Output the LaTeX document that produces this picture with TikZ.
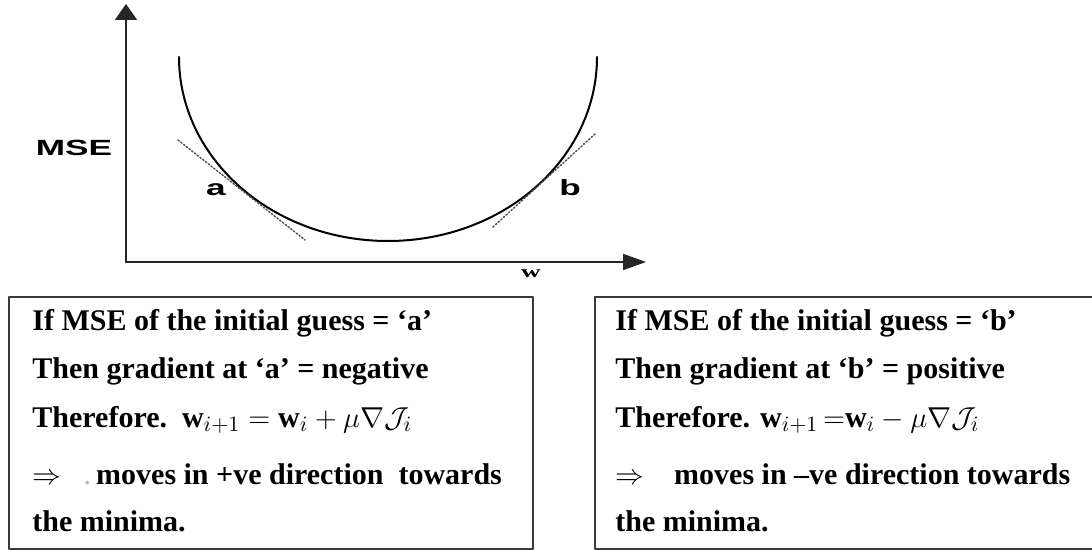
\documentclass[tikz,border=0pt]{standalone}
\usepackage{fontspec}
\usepackage{graphicx}
\setmainfont{Liberation Serif}
\newfontfamily\arialfont{Liberation Sans}
\usetikzlibrary{arrows.meta}
\definecolor{frame}{HTML}{3A3A3A}
\definecolor{tangent}{HTML}{505050}
\newcommand{\widelbl}[1]{\scalebox{1.6}[1]{#1}}

\begin{document}
\begin{tikzpicture}[x=0.5pt,y=-0.5pt,line cap=round,line join=round,
  axis/.style={line width=1pt,black!85},
  tanline/.style={tangent,line width=0.75pt,densely dotted},
  lbl/.style={font=\arialfont\bfseries\fontsize{11}{13}\selectfont,inner sep=0pt},
  boxframe/.style={frame,line width=1pt},
  boxtext/.style={font=\bfseries\fontsize{15}{18}\selectfont,anchor=base west,inner sep=0pt}]
  \useasboundingbox (0,0) rectangle (1092,551);
  \clip (0,0) rectangle (1092,551);

  % Axes
  \coordinate (o) at (126,262);
  \coordinate (ytip) at (126,4);
  \coordinate (xtip) at (646,262);
  \draw[axis,-{Triangle[length=8pt,width=11pt]}] (o) -- (ytip);
  \draw[axis,-{Triangle[length=11.5pt,width=8pt]}] (o) -- (xtip);
  \node[lbl] (mse) at (74,148) {\widelbl{MSE}};
  \node[inner sep=0pt,font=\fontsize{8.5}{10}\selectfont] (wlbl) at (531,274) {\widelbl{$\mathbf{w}$}};

  % Error curve and tangents
  \draw[line width=1pt] (179,57) arc[start angle=180,end angle=0,x radius=209,y radius=184];
  \draw[tanline] (178,140) -- (305,240);
  \draw[tanline] (493,227) -- (595,134);
  \node[lbl] (lbla) at (216,190) {\widelbl{a}};
  \node[lbl] (lblb) at (570,188) {\widelbl{b}};

  % Left box
  \draw[boxframe] (9,297) rectangle (533,549);
  \node[boxtext] (la1) at (32,330) {If MSE of the initial guess = `a'};
  \node[boxtext] (la2) at (32,378) {Then gradient at `a' = negative};
  \node[boxtext] (la3) at (32,427) {Therefore.\ \ $\mathbf{w}_{i+1}=\mathbf{w}_i+\mu\nabla\mathcal{J}_i$};
  \node[boxtext] (la4) at (32,484) {$\Rightarrow$\ \ \ {\color{gray!60}\mdseries.}\,moves in +ve direction\ \ towards};
  \node[boxtext] (la5) at (32,531) {the minima.};

  % Right box
  \draw[boxframe] (595,297) rectangle (1100,549);
  \node[boxtext] (rb1) at (615,330) {If MSE of the initial guess = `b'};
  \node[boxtext] (rb2) at (615,378) {Then gradient at `b' = positive};
  \node[boxtext] (rb3) at (615,427) {Therefore. $\mathbf{w}_{i+1}\,{=}\mathbf{w}_i-\mu\nabla\mathcal{J}_i$};
  \node[boxtext] (rb4) at (615,484) {$\Rightarrow$\quad moves in --ve direction towards};
  \node[boxtext] (rb5) at (615,531) {the minima.};
\end{tikzpicture}
\end{document}
